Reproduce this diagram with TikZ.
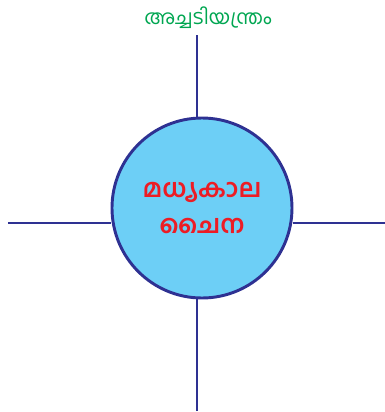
\documentclass[tikz,border=0pt]{standalone}
\usepackage{fontspec}
\newfontfamily\mal[Script=Malayalam]{Hind Kochi}
\definecolor{lineblue}{HTML}{2E3192}
\definecolor{fillblue}{HTML}{6DCFF6}
\definecolor{tred}{HTML}{ED1C24}
\definecolor{tgreen}{HTML}{00A651}
\tikzset{
  spoke/.style={draw=lineblue, line width=2.2pt},
  hub/.style={circle, draw=lineblue, line width=2.2pt, fill=fillblue, minimum size=135pt, inner sep=0pt, align=center, text=tred, font=\mal\bfseries\fontsize{19}{27}\selectfont},
  lbl/.style={text=tgreen, font=\mal\fontsize{15}{18}\selectfont, inner sep=0pt}
}
\begin{document}
\begin{tikzpicture}[x=0.75pt,y=-0.75pt]
\useasboundingbox (0,0) rectangle (385,412);
\node[hub] (c) at (202,208) {മധ്യകാല\\ചൈന};
\coordinate (t) at (197,35);
\coordinate (b) at (197,411);
\coordinate (l) at (8,223);
\coordinate (r) at (385,223);
\node[lbl] (tl) at (208,18) {അച്ചടിയന്ത്രം};
\draw[spoke] (t) -- (t |- c.north);
\draw[spoke] (b) -- (b |- c.south);
\draw[spoke] (l) -- (l -| c.west);
\draw[spoke] (r) -- (r -| c.east);
\end{tikzpicture}
\end{document}
